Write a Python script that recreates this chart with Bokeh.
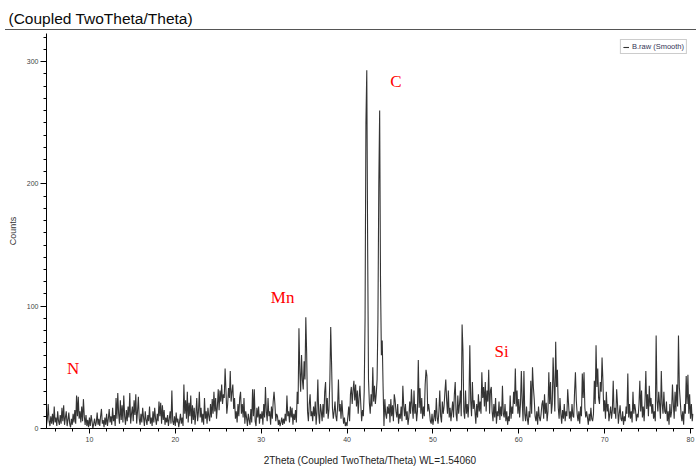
from bokeh.plotting import figure
from bokeh.models import Range1d, Legend, LegendItem, ColumnDataSource, FixedTicker, Div
from bokeh.layouts import column
from bokeh.embed import file_html
from bokeh.resources import INLINE
from bokeh.core.properties import value

# ---- data ----
start_2theta = 5.0
step_2theta = 0.1
counts_rows = [
    [3, 8, 20, 6, 2, 10, 4, 12, 3, 18],        # 5
    [5, 9, 2, 14, 6, 3, 11, 4, 17, 6],         # 6
    [19, 3, 9, 14, 2, 7, 13, 4, 1, 8],         # 7
    [3, 12, 5, 15, 4, 27, 10, 26, 8, 14],      # 8
    [5, 18, 6, 24, 10, 3, 11, 2, 7, 1],        # 9
    [9, 2, 11, 6, 0, 4, 8, 2, 5, 13],          # 10
    [3, 8, 2, 10, 16, 4, 7, 1, 9, 3],          # 11
    [12, 2, 8, 16, 5, 10, 3, 17, 6, 11],       # 12
    [2, 25, 8, 29, 12, 4, 23, 7, 19, 5],       # 13
    [27, 10, 3, 15, 6, 18, 9, 29, 4, 12],      # 14
    [18, 6, 23, 11, 28, 4, 14, 26, 8, 3],      # 15
    [12, 5, 17, 9, 2, 14, 7, 3, 11, 6],        # 16
    [18, 4, 9, 2, 14, 5, 17, 8, 3, 12],        # 17
    [6, 22, 10, 21, 4, 19, 7, 15, 3, 9],       # 18
    [5, 11, 2, 8, 14, 4, 31, 6, 3, 10],        # 19
    [2, 13, 5, 8, 1, 6, 12, 4, 9, 2],          # 20
    [36, 12, 23, 8, 30, 5, 21, 10, 27, 4],     # 21
    [19, 7, 17, 3, 12, 25, 6, 14, 30, 9],      # 22
    [17, 5, 12, 3, 25, 8, 14, 4, 17, 10],      # 23
    [6, 20, 9, 24, 12, 30, 14, 25, 8, 18],     # 24
    [32, 15, 31, 22, 36, 20, 28, 25, 49, 31],  # 25
    [12, 20, 33, 25, 47, 22, 30, 36, 16, 25],  # 26
    [8, 14, 5, 20, 10, 25, 30, 12, 20, 9],     # 27
    [25, 4, 14, 9, 2, 12, 7, 3, 16, 5],        # 28
    [32, 10, 32, 6, 2, 17, 9, 18, 4, 12],      # 29
    [8, 14, 3, 20, 9, 34, 14, 6, 25, 10],      # 30
    [14, 3, 18, 8, 22, 30, 20, 6, 12, 10],     # 31
    [3, 7, 2, 5, 9, 3, 8, 4, 12, 6],           # 32
    [27, 10, 14, 5, 18, 9, 17, 3, 12, 7],      # 33
    [15, 5, 30, 20, 82, 47, 30, 60, 40, 32],   # 34
    [55, 40, 91, 61, 14, 6, 20, 28, 10, 14],   # 35
    [6, 18, 10, 22, 3, 14, 40, 12, 4, 20],     # 36
    [14, 6, 20, 9, 30, 38, 12, 25, 8, 16],     # 37
    [40, 83, 53, 17, 8, 14, 22, 10, 6, 18],    # 38
    [40, 14, 20, 8, 23, 12, 4, 9, 2, 5],       # 39
    [2, 10, 18, 6, 28, 34, 20, 31, 39, 23],    # 40
    [36, 18, 31, 12, 25, 35, 20, 6, 15, 10],   # 41
    [30, 90, 250, 293, 150, 40, 21, 12, 28, 18],   # 42
    [50, 22, 35, 20, 28, 40, 90, 200, 260, 120],   # 43
    [60, 72, 34, 2, 24, 12, 8, 18, 12, 20],    # 44
    [5, 24, 10, 19, 6, 28, 23, 14, 9, 20],     # 45
    [4, 12, 8, 18, 6, 35, 19, 10, 20, 7],      # 46
    [14, 3, 9, 22, 12, 32, 18, 8, 31, 12],     # 47
    [20, 6, 14, 56, 17, 33, 12, 25, 8, 18],    # 48
    [10, 36, 48, 43, 14, 20, 14, 6, 4, 12],    # 49
    [3, 8, 15, 6, 25, 9, 4, 14, 31, 10],       # 50
    [5, 22, 12, 18, 30, 40, 23, 12, 31, 9],    # 51
    [17, 6, 14, 22, 9, 28, 38, 12, 6, 27],     # 52
    [12, 20, 31, 10, 85, 64, 14, 8, 31, 12],   # 53
    [20, 9, 23, 68, 23, 10, 38, 16, 23, 14],   # 54
    [4, 20, 9, 28, 14, 22, 12, 46, 25, 34],    # 55
    [18, 38, 14, 31, 22, 48, 12, 31, 34, 14],  # 56
    [6, 20, 9, 25, 4, 14, 10, 22, 7, 18],      # 57
    [10, 35, 12, 9, 20, 6, 14, 3, 10, 6],      # 58
    [27, 8, 18, 12, 30, 20, 49, 18, 31, 12],   # 59
    [24, 9, 20, 47, 23, 6, 47, 12, 6, 18],     # 60
    [8, 3, 14, 9, 39, 12, 50, 34, 24, 10],     # 61
    [6, 14, 3, 18, 9, 6, 12, 20, 23, 8],       # 62
    [28, 12, 21, 6, 14, 46, 20, 38, 12, 20],   # 63
    [58, 36, 14, 71, 34, 48, 17, 8, 25, 12],   # 64
    [4, 15, 8, 20, 6, 14, 10, 32, 20, 8],      # 65
    [14, 6, 20, 10, 9, 30, 46, 23, 12, 6],     # 66
    [14, 4, 18, 10, 45, 25, 46, 17, 9, 14],    # 67
    [9, 3, 12, 6, 17, 8, 6, 12, 39, 20],       # 68
    [68, 34, 49, 25, 20, 38, 30, 58, 39, 14],  # 69
    [23, 8, 30, 14, 20, 6, 12, 18, 8, 15],     # 70
    [39, 12, 17, 8, 32, 20, 4, 12, 19, 8],     # 71
    [6, 14, 3, 10, 6, 18, 12, 45, 9, 20],      # 72
    [8, 14, 5, 30, 12, 20, 15, 6, 12, 9],      # 73
    [20, 39, 14, 31, 9, 18, 6, 22, 47, 16],    # 74
    [28, 10, 35, 18, 25, 12, 20, 8, 14, 6],    # 75
    [76, 23, 14, 30, 20, 8, 47, 20, 12, 30],   # 76
    [14, 12, 22, 6, 14, 3, 20, 9, 14, 36],     # 77
    [20, 8, 30, 14, 36, 18, 76, 34, 23, 12],   # 78
    [6, 14, 3, 20, 12, 43, 20, 44, 12, 28],    # 79
    [8, 20, 6, 12],                            # 80
]
counts = [c for row in counts_rows for c in row]
two_theta = [round(start_2theta + step_2theta * i, 2) for i in range(len(counts))]

x_ticks = [10, 20, 30, 40, 50, 60, 70, 80]
y_ticks = [0, 100, 200, 300]

phase_labels = ["N", "Mn", "C", "Si"]
phase_x = [8.1, 32.5, 45.7, 58.0]
phase_y = [49, 107, 284, 63]

title_text = "(Coupled TwoTheta/Theta)"
x_label = "2Theta (Coupled TwoTheta/Theta) WL=1.54060"
y_label = "Counts"
series_name = "B.raw (Smooth)"

p = figure(width=696, height=472, x_range=Range1d(5, 80.35), y_range=Range1d(0, 323),
           toolbar_location=None, output_backend="svg",
           min_border_left=46, min_border_right=3, min_border_top=32, min_border_bottom=44)
p.outline_line_color = None
p.grid.visible = False
p.background_fill_color = "white"

p.title.text = title_text
p.title.align = "left"
p.title.offset = -38
p.title.text_font = "Liberation Sans"
p.title.text_font_size = "15.5px"
p.title.text_font_style = "normal"
p.title.text_color = "#0a0a0a"
p.title.standoff = 14

src = ColumnDataSource(dict(x=two_theta, y=counts))
r = p.line("x", "y", source=src, line_color="#1e1e1e", line_width=1.1, line_alpha=0.9)

p.text(x=phase_x, y=phase_y, text=phase_labels, text_color="red",
       text_font=value("Liberation Serif"), text_font_size="17px",
       text_align="center", text_baseline="middle")

xa = p.xaxis[0]
xa.ticker = FixedTicker(ticks=x_ticks, minor_ticks=list(range(6, 81, 2)))
xa.axis_label = x_label
xa.axis_label_text_font = "Liberation Sans"
xa.axis_label_text_font_size = "10px"
xa.axis_label_text_font_style = "normal"
xa.axis_label_text_color = "#222222"
xa.axis_label_standoff = 10
xa.major_label_text_font = "Liberation Sans"
xa.major_label_text_font_size = "7px"
xa.major_label_text_color = "#444444"
xa.major_label_standoff = 3
xa.major_tick_out = 5
xa.major_tick_in = 0
xa.minor_tick_out = 3
xa.minor_tick_in = 0
xa.axis_line_color = "black"

ya = p.yaxis[0]
ya.ticker = FixedTicker(ticks=y_ticks, minor_ticks=list(range(0, 330, 10)))
ya.axis_label = y_label
ya.axis_label_text_font = "Liberation Sans"
ya.axis_label_text_font_size = "9px"
ya.axis_label_text_font_style = "normal"
ya.axis_label_text_color = "#333333"
ya.axis_label_standoff = 6
ya.major_label_text_font = "Liberation Sans"
ya.major_label_text_font_size = "7px"
ya.major_label_text_color = "#444444"
ya.major_label_standoff = 2
ya.major_tick_out = 6
ya.major_tick_in = 0
ya.minor_tick_out = 3
ya.minor_tick_in = 0
ya.axis_line_color = "black"

legend = Legend(items=[LegendItem(label=series_name, renderers=[r])], location="top_right",
                label_text_font="Liberation Sans", label_text_font_size="7.5px",
                label_text_color="#333355", glyph_width=6, glyph_height=8, label_standoff=3,
                padding=2, margin=6, spacing=0, label_height=8,
                border_line_color="#999999", border_line_width=1, background_fill_alpha=1)
p.add_layout(legend)

# thin separator rule under the header, overlaid on the page
rule = Div(text="", width=691, height=1, margin=0,
           styles={"position": "absolute", "top": "29px", "left": "5px",
                   "width": "691px", "height": "1px", "background-color": "#555555"})

layout = column(p, rule, spacing=0)
open("out.html", "w").write(file_html(layout, INLINE))
